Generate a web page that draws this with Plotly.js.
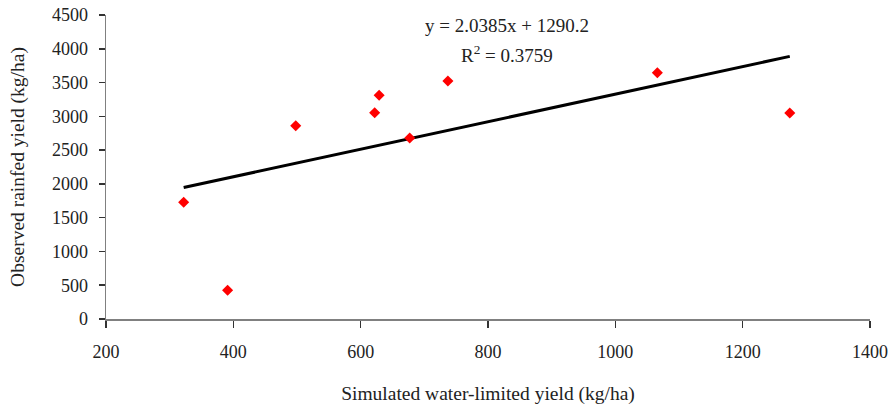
<!DOCTYPE html>
<html>
<head>
<meta charset="utf-8">
<script src="https://cdn.plot.ly/plotly-3.0.1.min.js"></script>
<style>html,body{margin:0;padding:0;background:#fff;}#chart{width:891px;height:407px;}</style>
</head>
<body>
<div id="chart"></div>
<script>
var simulated = [322, 391, 498, 622, 629, 677, 737, 1066, 1274];
var observed = [1727, 425, 2861, 3054, 3311, 2679, 3523, 3646, 3049];
var slope = 2.0385;
var intercept = 1290.2;
var trendX = [Math.min.apply(null, simulated), Math.max.apply(null, simulated)];
var trendY = trendX.map(function (x) { return slope * x + intercept; });
var xTicks = [200, 400, 600, 800, 1000, 1200, 1400];
var yTicks = [0, 500, 1000, 1500, 2000, 2500, 3000, 3500, 4000, 4500];

var fam = '"Liberation Serif", "DejaVu Serif", serif';
var tickFont = {family: fam, size: 18, color: '#222'};
var titleFont = {family: fam, size: 19.5, color: '#222'};
var annFont = {family: fam, size: 19, color: '#222'};

var data = [
  {x: trendX, y: trendY, mode: 'lines', type: 'scatter', line: {color: '#000', width: 3}, hoverinfo: 'skip'},
  {x: simulated, y: observed, mode: 'markers', type: 'scatter',
   marker: {symbol: 'diamond', size: 8.5, color: '#ff0000', line: {width: 0}}}
];

var layout = {
  width: 891, height: 407,
  margin: {l: 106, r: 21, t: 15, b: 88},
  paper_bgcolor: '#fff', plot_bgcolor: '#fff',
  showlegend: false,
  font: tickFont,
  xaxis: {
    range: [200, 1400], tickvals: xTicks, ticktext: xTicks.map(String),
    showgrid: false, zeroline: false, showline: true, linecolor: '#808080', linewidth: 1.5,
    ticks: 'outside', ticklen: 7, tickcolor: '#333', tickwidth: 1.5,
    ticklabelstandoff: 9,
    tickfont: tickFont,
    title: {text: 'Simulated water-limited yield (kg/ha)', font: titleFont, standoff: 25}
  },
  yaxis: {
    range: [0, 4500], tickvals: yTicks, ticktext: yTicks.map(String),
    showgrid: false, zeroline: false, showline: true, linecolor: '#808080', linewidth: 1.5,
    ticks: 'outside', ticklen: 6, tickcolor: '#333', tickwidth: 1.5,
    ticklabelstandoff: 7,
    tickfont: tickFont,
    title: {text: 'Observed rainfed yield (kg/ha)', font: titleFont, standoff: 22}
  },
  annotations: [
    {xref: 'paper', yref: 'paper', x: (507 - 106) / 764, y: (319 - 25) / 304, text: 'y = 2.0385x + 1290.2',
     showarrow: false, font: annFont, xanchor: 'center', yanchor: 'middle'},
    {xref: 'paper', yref: 'paper', x: (507 - 106) / 764, y: (319 - 54) / 304, text: 'R<sup>2</sup> = 0.3759',
     showarrow: false, font: annFont, xanchor: 'center', yanchor: 'middle'}
  ]
};

Plotly.newPlot('chart', data, layout, {displayModeBar: false, staticPlot: true});
</script>
</body>
</html>
